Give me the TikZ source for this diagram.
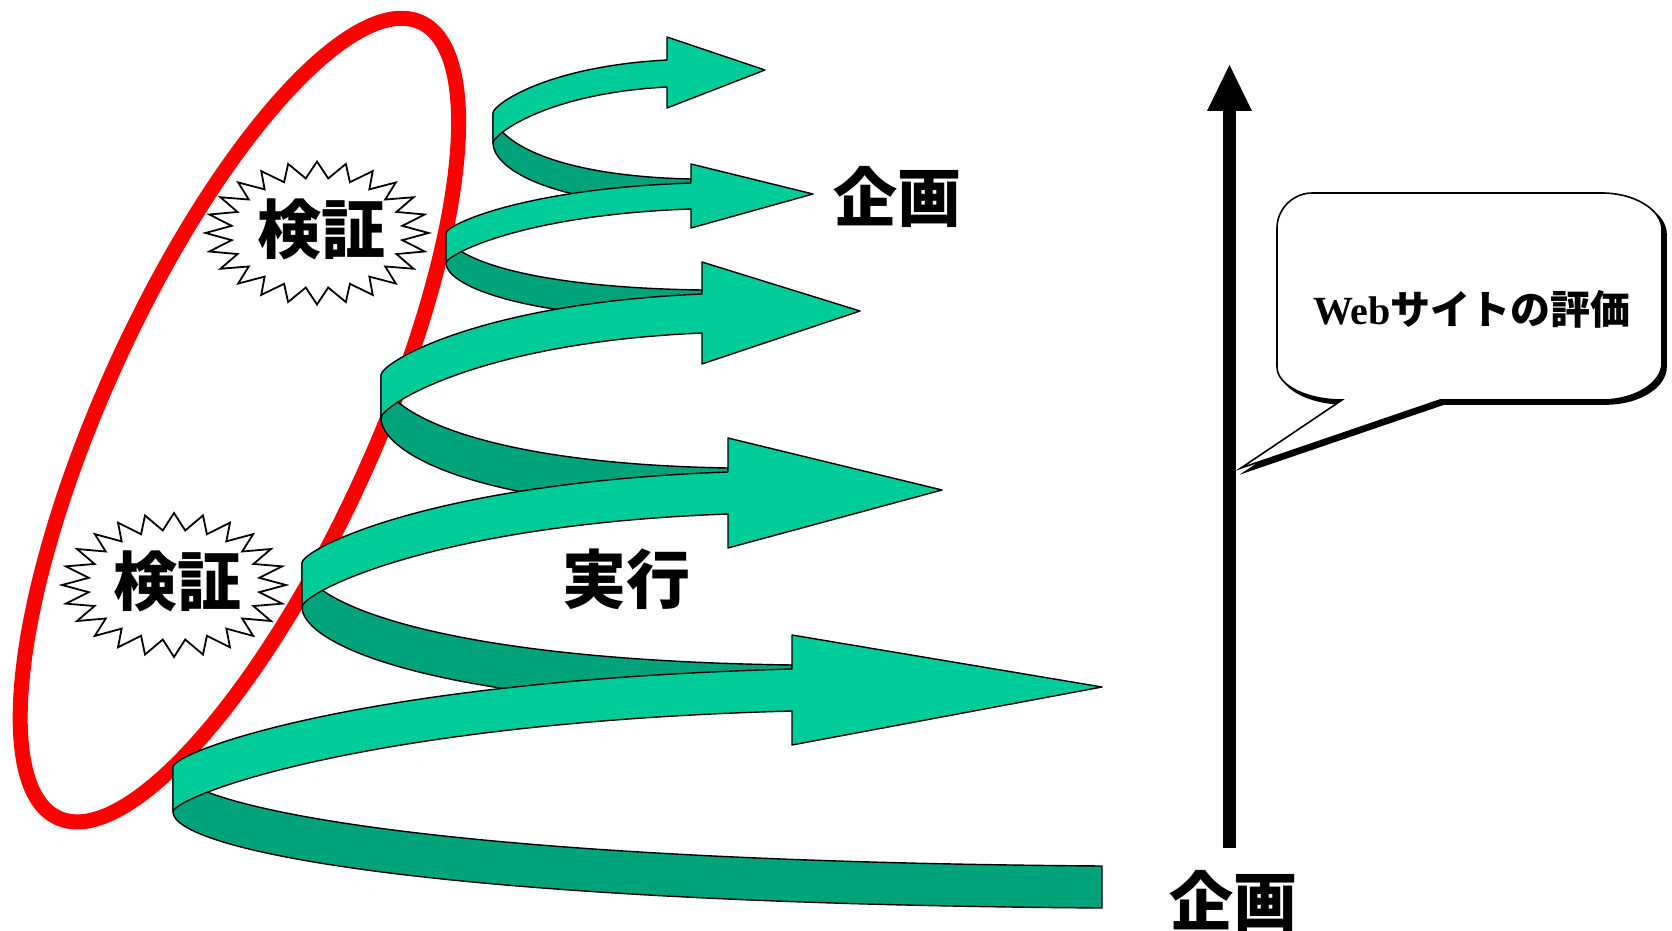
\documentclass[tikz,border=0pt]{standalone}
\usepackage{fontspec}
\newfontfamily\jp{Noto Sans CJK JP}
\newfontfamily\webfont{Liberation Serif}
\definecolor{lightg}{RGB}{0,204,153}
\definecolor{darkg}{RGB}{0,163,122}
\begin{document}
\begin{tikzpicture}[x=0.5pt,y=-0.5pt,
  lightband/.style={fill=lightg,draw=black,line width=0.7pt,line join=round},
  darkband/.style={fill=darkg,draw=black,line width=0.7pt,line join=round},
  burst/.style={fill=white,draw=black,line width=0.9pt,line join=miter},
  jplabel/.style={font=\jp\bfseries\fontsize{32}{36}\selectfont,inner sep=0pt},
  bubble/.style={fill=white,draw=black,line width=0.8pt,line join=miter,
    preaction={fill=black,draw=black,line width=0.8pt,transform canvas={xshift=2pt,yshift=-2pt}}}]
\useasboundingbox (0,0) rectangle (1672,931);
\fill[white] (0,0) rectangle (1672,931);

% red ellipse
\draw[red, line width=7.5pt, rotate around={65.5:(239.4,420.1)}] (239.4,420.1) ellipse [x radius=437.2, y radius=135.4];

% starbursts
\draw[burst] plot[samples at={0,1,...,47}, variable=\k]
  ({317+(111.5-25.5*isodd(\k))*cos(90+7.5*\k)}, {233-(71.5-16.5*isodd(\k))*sin(90+7.5*\k)}) -- cycle;
\draw[burst] plot[samples at={0,1,...,47}, variable=\k]
  ({174+(112-26*isodd(\k))*cos(90+7.5*\k)}, {585-(72-17*isodd(\k))*sin(90+7.5*\k)}) -- cycle;

% loop 5 (top)
\path[darkband] (493,113) .. controls (493,136.1) and (542.5,175.7) .. (691,179) -- (691,207) .. controls (542.5,203.7) and (493,166.1) .. (493,143) -- cycle;
\path[lightband] (493,113) .. controls (493,105) and (545.2,66.4) .. (667,60) -- (667,37) -- (765,70) -- (667,108) -- (667,87) .. controls (545.2,93.4) and (493,135) .. (493,143) -- cycle;

% loop 4
\path[darkband] (446,233) .. controls (446,253) and (510,287.2) .. (702,290) -- (702,320) .. controls (510,317.2) and (446,283) .. (446,263) -- cycle;
\path[lightband] (446,233) .. controls (446,225.5) and (519.5,189) .. (691,183) -- (691,164) -- (813,194) -- (691,228) -- (691,209) .. controls (519.5,215) and (446,255.5) .. (446,263) -- cycle;

% loop 3
\path[darkband] (381,375) .. controls (381,407.6) and (467.8,463.4) .. (728,468) -- (728,511) .. controls (467.8,506.4) and (381,450.6) .. (381,418) -- cycle;
\path[lightband] (381,375) .. controls (381,362.9) and (477.3,303.7) .. (702,294) -- (702,262) -- (860,311) -- (702,364) -- (702,333) .. controls (477.3,342.7) and (381,405.9) .. (381,418) -- cycle;

% loop 2
\path[darkband] (302,563) .. controls (302,598.7) and (424.5,659.9) .. (792,665) -- (792,709) .. controls (424.5,703.9) and (302,642.7) .. (302,607) -- cycle;
\path[lightband] (302,563) .. controls (302,549.4) and (429.8,482.9) .. (728,472) -- (728,438) -- (942,490) -- (728,548) -- (728,514) .. controls (429.8,524.9) and (302,593.4) .. (302,607) -- cycle;

% loop 1 (bottom)
\path[darkband] (173,767) .. controls (173,802) and (405,861) .. (1102,866) -- (1102,908) .. controls (405,903) and (173,847) .. (173,812) -- cycle;
\path[lightband] (173,767) .. controls (173,752.3) and (358.7,680.8) .. (792,669) -- (792,635) -- (1102,687) -- (792,745) -- (792,711) .. controls (358.7,722.8) and (173,797.3) .. (173,812) -- cycle;

% labels
\node[jplabel] (kensho1) at (321,229) {検証};
\node[jplabel] (kensho2) at (177,581) {検証};
\node[jplabel] (kikaku1) at (897,197) {企画};
\node[jplabel] (jikkou) at (626,579) {実行};
\node[jplabel] (kikaku2) at (1233,901) {企画};

% vertical axis arrow
\coordinate (axisbottom) at (1229.5,848);
\coordinate (axisneck) at (1229.5,110);
\coordinate (axistip) at (1229.5,65);
\draw[line width=6.25pt] (axisbottom) -- (axisneck);
\fill (1207,111) -- (axistip) -- (1252,111) -- cycle;

% speech bubble
\path[bubble] (1342,400) -- (1241,468) -- (1440,400) -- (1602,400)
  .. controls (1635,400) and (1662,383) .. (1662,363) -- (1662,230)
  .. controls (1662,210) and (1635,193) .. (1602,193) -- (1312,193)
  .. controls (1293,193) and (1277,209) .. (1277,228) -- (1277,367)
  .. controls (1277,385) and (1306,400) .. (1342,400) -- cycle;
\node[inner sep=0pt] (web) at (1472,309) {\fontsize{20}{24}\selectfont{\webfont\bfseries Web}{\jp\bfseries サイトの評価}};
\end{tikzpicture}
\end{document}
